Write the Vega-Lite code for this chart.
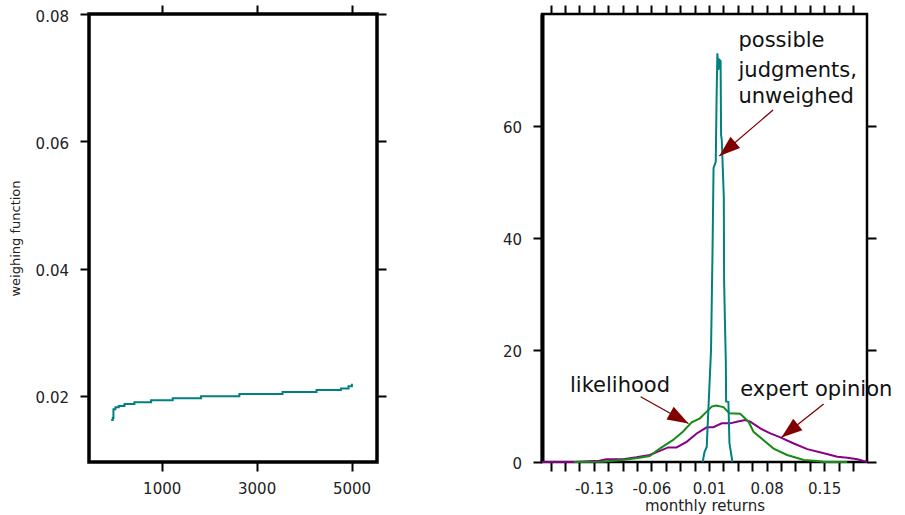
{
  "$schema": "https://vega.github.io/schema/vega-lite/v6.json",
  "background": "white",
  "padding": {"left": 7, "top": 2, "right": 2, "bottom": 2},
  "bounds": "flush",
  "spacing": 165,
  "config": {
    "font": "DejaVu Sans",
    "view": {"stroke": "black", "strokeWidth": 3},
    "axis": {
      "grid": false, "domain": false, "ticks": true, "tickColor": "black", "tickWidth": 2, "tickSize": 9,
      "labelFont": "DejaVu Sans", "labelFontSize": 15, "labelColor": "#222222", "labelPadding": 11.5,
      "labelFlush": false, "labelOverlap": false,
      "titleFont": "DejaVu Sans", "titleFontWeight": "normal", "titleColor": "#222222"
    }
  },
  "datasets": {
    "weights": [
      {"x": -65, "w": 0.0162}, {"x": -31, "w": 0.0165}, {"x": -17, "w": 0.0179}, {"x": 25, "w": 0.0182},
      {"x": 95, "w": 0.0184}, {"x": 215, "w": 0.0187}, {"x": 425, "w": 0.019}, {"x": 777, "w": 0.0193},
      {"x": 1232, "w": 0.0196}, {"x": 1829, "w": 0.01995}, {"x": 2636, "w": 0.0203}, {"x": 3547, "w": 0.0206},
      {"x": 4263, "w": 0.0209}, {"x": 4776, "w": 0.02115}, {"x": 4937, "w": 0.0215}, {"x": 5008, "w": 0.0219}
    ],
    "curves": [
      {"series": "expert opinion", "r": -0.193, "d": 0},
      {"series": "expert opinion", "r": -0.1537, "d": 0},
      {"series": "expert opinion", "r": -0.1232, "d": 0.24},
      {"series": "expert opinion", "r": -0.115, "d": 0.48},
      {"series": "expert opinion", "r": -0.0947, "d": 0.48},
      {"series": "expert opinion", "r": -0.0783, "d": 0.83},
      {"series": "expert opinion", "r": -0.0621, "d": 1.25},
      {"series": "expert opinion", "r": -0.0499, "d": 2.0},
      {"series": "expert opinion", "r": -0.0397, "d": 2.6},
      {"series": "expert opinion", "r": -0.0295, "d": 2.6},
      {"series": "expert opinion", "r": -0.0172, "d": 3.6},
      {"series": "expert opinion", "r": -0.005, "d": 5.1},
      {"series": "expert opinion", "r": 0.0072, "d": 6.2},
      {"series": "expert opinion", "r": 0.0153, "d": 6.2},
      {"series": "expert opinion", "r": 0.0255, "d": 6.9},
      {"series": "expert opinion", "r": 0.0357, "d": 6.9},
      {"series": "expert opinion", "r": 0.0438, "d": 7.2},
      {"series": "expert opinion", "r": 0.054, "d": 7.5},
      {"series": "expert opinion", "r": 0.0601, "d": 7.2},
      {"series": "expert opinion", "r": 0.0723, "d": 6.0},
      {"series": "expert opinion", "r": 0.0845, "d": 5.1},
      {"series": "expert opinion", "r": 0.0967, "d": 4.4},
      {"series": "expert opinion", "r": 0.113, "d": 3.3},
      {"series": "expert opinion", "r": 0.1294, "d": 2.3},
      {"series": "expert opinion", "r": 0.1496, "d": 1.55},
      {"series": "expert opinion", "r": 0.166, "d": 0.95},
      {"series": "expert opinion", "r": 0.1782, "d": 0.77},
      {"series": "expert opinion", "r": 0.1904, "d": 0.48},
      {"series": "expert opinion", "r": 0.202, "d": 0},
      {"series": "likelihood", "r": -0.1537, "d": 0},
      {"series": "likelihood", "r": -0.12, "d": 0.05},
      {"series": "likelihood", "r": -0.0951, "d": 0.36},
      {"series": "likelihood", "r": -0.0743, "d": 0.77},
      {"series": "likelihood", "r": -0.0621, "d": 1.07},
      {"series": "likelihood", "r": -0.0499, "d": 2.4},
      {"series": "likelihood", "r": -0.034, "d": 3.9},
      {"series": "likelihood", "r": -0.0218, "d": 5.4},
      {"series": "likelihood", "r": -0.0111, "d": 7.1},
      {"series": "likelihood", "r": -0.001, "d": 7.8},
      {"series": "likelihood", "r": 0.0072, "d": 9.0},
      {"series": "likelihood", "r": 0.0133, "d": 9.9},
      {"series": "likelihood", "r": 0.0186, "d": 10.1},
      {"series": "likelihood", "r": 0.0275, "d": 9.8},
      {"series": "likelihood", "r": 0.0348, "d": 8.7},
      {"series": "likelihood", "r": 0.0479, "d": 8.6},
      {"series": "likelihood", "r": 0.058, "d": 7.2},
      {"series": "likelihood", "r": 0.0641, "d": 5.4},
      {"series": "likelihood", "r": 0.0763, "d": 3.9},
      {"series": "likelihood", "r": 0.0885, "d": 2.4},
      {"series": "likelihood", "r": 0.1049, "d": 1.25},
      {"series": "likelihood", "r": 0.1252, "d": 0.36},
      {"series": "likelihood", "r": 0.1416, "d": 0.18},
      {"series": "likelihood", "r": 0.1496, "d": 0},
      {"series": "likelihood", "r": 0.178, "d": 0},
      {"series": "possible judgments", "r": 0.0023, "d": 0},
      {"series": "possible judgments", "r": 0.0045, "d": 1.79},
      {"series": "possible judgments", "r": 0.00719, "d": 2.68},
      {"series": "possible judgments", "r": 0.01244, "d": 20.0},
      {"series": "possible judgments", "r": 0.01428, "d": 37.9},
      {"series": "possible judgments", "r": 0.0155, "d": 52.5},
      {"series": "possible judgments", "r": 0.01818, "d": 53.6},
      {"series": "possible judgments", "r": 0.01916, "d": 64.6},
      {"series": "possible judgments", "r": 0.02014, "d": 73.0},
      {"series": "possible judgments", "r": 0.02136, "d": 70.0},
      {"series": "possible judgments", "r": 0.02258, "d": 71.8},
      {"series": "possible judgments", "r": 0.02405, "d": 71.6},
      {"series": "possible judgments", "r": 0.02466, "d": 58.4},
      {"series": "possible judgments", "r": 0.02551, "d": 57.5},
      {"series": "possible judgments", "r": 0.02796, "d": 47.3},
      {"series": "possible judgments", "r": 0.02832, "d": 32.5},
      {"series": "possible judgments", "r": 0.02955, "d": 23.6},
      {"series": "possible judgments", "r": 0.0304, "d": 18.2},
      {"series": "possible judgments", "r": 0.03077, "d": 10.8},
      {"series": "possible judgments", "r": 0.03358, "d": 10.7},
      {"series": "possible judgments", "r": 0.0348, "d": 3.4},
      {"series": "possible judgments", "r": 0.03846, "d": 0}
    ],
    "notes": [
      {"text": "possible", "r": 0.0458, "d": 74.05},
      {"text": "judgments,", "r": 0.0458, "d": 68.8},
      {"text": "unweighed", "r": 0.0458, "d": 64.05},
      {"text": "likelihood", "r": -0.159, "d": 12.55},
      {"text": "expert opinion", "r": 0.0479, "d": 11.8}
    ],
    "arrows": [
      {"label": "judgments", "r": 0.0878, "d": 62.86, "r2": 0.02258, "d2": 54.64},
      {"label": "likelihood", "r": -0.0731, "d": 11.66, "r2": -0.01504, "d2": 6.875},
      {"label": "expert", "r": 0.1493, "d": 10.36, "r2": 0.098, "d2": 4.375}
    ]
  },
  "hconcat": [
    {
      "width": 288,
      "height": 448,
      "view": {"stroke": "black", "strokeWidth": 3.5},
      "data": {"name": "weights"},
      "layer": [
        {
          "mark": {"type": "line", "interpolate": "step-after", "color": "#008080", "strokeWidth": 2},
          "encoding": {
            "x": {"field": "x", "type": "quantitative",
                  "scale": {"domain": [-532, 5537], "nice": false, "zero": false},
                  "axis": {"orient": "bottom", "values": [1000, 3000, 5000], "format": "d", "title": null, "labelPadding": 10}},
            "y": {"field": "w", "type": "quantitative",
                  "scale": {"domain": [0.0096, 0.08], "nice": false, "zero": false},
                  "axis": {"orient": "left", "values": [0.02, 0.04, 0.06, 0.08], "format": ".2f", "title": "weighing function",
                           "titleFontSize": 13, "titlePadding": 13, "labelOffset": 2}}
          }
        },
        {
          "mark": {"type": "line", "opacity": 0},
          "encoding": {
            "x": {"field": "x", "type": "quantitative",
                  "scale": {"domain": [-532, 5537], "nice": false, "zero": false},
                  "axis": {"orient": "top", "values": [1000, 3000, 5000], "labels": false, "title": null}},
            "y": {"field": "w", "type": "quantitative",
                  "scale": {"domain": [0.0096, 0.08], "nice": false, "zero": false},
                  "axis": {"orient": "right", "values": [0.02, 0.04, 0.06, 0.08], "labels": false, "title": null}}
          }
        }
      ],
      "resolve": {"axis": {"x": "independent", "y": "independent"}}
    },
    {
      "width": 325,
      "height": 448,
      "view": {"stroke": "black", "strokeWidth": 2.5},
      "layer": [
        {
          "data": {"name": "curves"},
          "transform": [{"filter": "datum.series === 'expert opinion'"}],
          "mark": {"type": "line", "color": "#880088", "strokeWidth": 2},
          "encoding": {
            "x": {"field": "r", "type": "quantitative",
                  "scale": {"domain": [-0.193, 0.202], "nice": false, "zero": false},
                  "axis": {"orient": "bottom", "title": "monthly returns", "titleFontSize": 15, "titlePadding": 2, "labelPadding": 10,
                           "values": [-0.1825, -0.165, -0.1475, -0.13, -0.1125, -0.095, -0.0775, -0.06, -0.0425, -0.025, -0.0075, 0.01, 0.0275, 0.045, 0.0625, 0.08, 0.0975, 0.115, 0.1325, 0.15, 0.1675, 0.185],
                           "labelExpr": "abs(datum.value+0.13)<0.001 ? '-0.13' : abs(datum.value+0.06)<0.001 ? '-0.06' : abs(datum.value-0.01)<0.001 ? '0.01' : abs(datum.value-0.08)<0.001 ? '0.08' : abs(datum.value-0.15)<0.001 ? '0.15' : ''"}},
            "y": {"field": "d", "type": "quantitative",
                  "scale": {"domain": [0, 80], "nice": false, "zero": false},
                  "axis": {"orient": "left", "values": [0, 20, 40, 60], "format": "d", "title": null, "labelOffset": 1.5,
                           "domain": true, "domainColor": "black", "domainWidth": 4}}
          }
        },
        {
          "data": {"name": "curves"},
          "transform": [{"filter": "datum.series === 'likelihood'"}],
          "mark": {"type": "line", "color": "#158c15", "strokeWidth": 2},
          "encoding": {
            "x": {"field": "r", "type": "quantitative",
                  "scale": {"domain": [-0.193, 0.202], "nice": false, "zero": false},
                  "axis": {"orient": "top", "labels": false, "title": null,
                           "values": [-0.1825, -0.165, -0.1475, -0.13, -0.1125, -0.095, -0.0775, -0.06, -0.0425, -0.025, -0.0075, 0.01, 0.0275, 0.045, 0.0625, 0.08, 0.0975, 0.115, 0.1325, 0.15, 0.1675, 0.185]}},
            "y": {"field": "d", "type": "quantitative",
                  "scale": {"domain": [0, 80], "nice": false, "zero": false},
                  "axis": {"orient": "right", "values": [0, 20, 40, 60], "labels": false, "title": null}}
          }
        },
        {
          "data": {"name": "curves"},
          "transform": [{"filter": "datum.series === 'possible judgments'"}],
          "mark": {"type": "line", "color": "#008080", "strokeWidth": 2},
          "encoding": {
            "x": {"field": "r", "type": "quantitative", "scale": {"domain": [-0.193, 0.202], "nice": false, "zero": false}, "axis": null},
            "y": {"field": "d", "type": "quantitative", "scale": {"domain": [0, 80], "nice": false, "zero": false}, "axis": null}
          }
        },
        {
          "data": {"name": "arrows"},
          "mark": {"type": "rule", "color": "#800000", "strokeWidth": 1.3},
          "encoding": {
            "x": {"field": "r", "type": "quantitative", "scale": {"domain": [-0.193, 0.202], "nice": false, "zero": false}, "axis": null},
            "y": {"field": "d", "type": "quantitative", "scale": {"domain": [0, 80], "nice": false, "zero": false}, "axis": null},
            "x2": {"field": "r2"},
            "y2": {"field": "d2"}
          }
        },
        {
          "data": {"name": "arrows"},
          "transform": [{"filter": "datum.label === 'judgments'"}],
          "mark": {"type": "point", "shape": "M0,0L0.7,2L-0.7,2Z", "filled": true, "size": 441, "color": "#800000", "opacity": 1, "angle": 229.3},
          "encoding": {
            "x": {"field": "r2", "type": "quantitative", "scale": {"domain": [-0.193, 0.202], "nice": false, "zero": false}, "axis": null},
            "y": {"field": "d2", "type": "quantitative", "scale": {"domain": [0, 80], "nice": false, "zero": false}, "axis": null}
          }
        },
        {
          "data": {"name": "arrows"},
          "transform": [{"filter": "datum.label === 'likelihood'"}],
          "mark": {"type": "point", "shape": "M0,0L0.7,2L-0.7,2Z", "filled": true, "size": 441, "color": "#800000", "opacity": 1, "angle": 119.4},
          "encoding": {
            "x": {"field": "r2", "type": "quantitative", "scale": {"domain": [-0.193, 0.202], "nice": false, "zero": false}, "axis": null},
            "y": {"field": "d2", "type": "quantitative", "scale": {"domain": [0, 80], "nice": false, "zero": false}, "axis": null}
          }
        },
        {
          "data": {"name": "arrows"},
          "transform": [{"filter": "datum.label === 'expert'"}],
          "mark": {"type": "point", "shape": "M0,0L0.7,2L-0.7,2Z", "filled": true, "size": 441, "color": "#800000", "opacity": 1, "angle": 231.4},
          "encoding": {
            "x": {"field": "r2", "type": "quantitative", "scale": {"domain": [-0.193, 0.202], "nice": false, "zero": false}, "axis": null},
            "y": {"field": "d2", "type": "quantitative", "scale": {"domain": [0, 80], "nice": false, "zero": false}, "axis": null}
          }
        },
        {
          "data": {"name": "notes"},
          "mark": {"type": "text", "align": "left", "baseline": "alphabetic", "font": "DejaVu Sans", "fontSize": 21, "color": "#111111"},
          "encoding": {
            "x": {"field": "r", "type": "quantitative", "scale": {"domain": [-0.193, 0.202], "nice": false, "zero": false}, "axis": null},
            "y": {"field": "d", "type": "quantitative", "scale": {"domain": [0, 80], "nice": false, "zero": false}, "axis": null},
            "text": {"field": "text"}
          }
        }
      ],
      "resolve": {"axis": {"x": "independent", "y": "independent"}}
    }
  ]
}
